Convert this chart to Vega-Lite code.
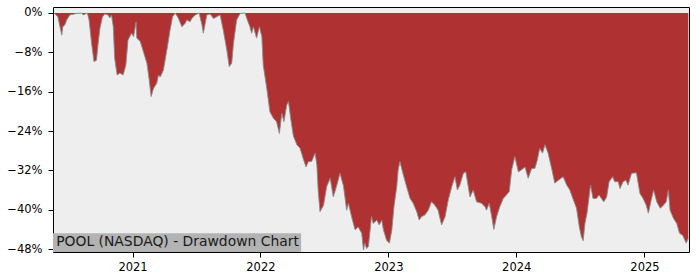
{
  "$schema": "https://vega.github.io/schema/vega-lite/v6.json",
  "width": 636,
  "height": 245,
  "autosize": {"type": "none"},
  "padding": {"left": 53, "top": 7, "right": 11, "bottom": 28},
  "background": "white",
  "config": {
    "font": "DejaVu Sans",
    "view": {"fill": "#eeeeee", "stroke": "black", "strokeWidth": 1},
    "axis": {"grid": false, "domain": false, "tickColor": "black", "tickSize": 5, "tickWidth": 1, "labelColor": "black", "labelFontSize": 11.5, "labelFont": "DejaVu Sans", "title": null}
  },
  "layer": [
    {
      "data": {"values": [
        {"date": "2020-05-22", "drawdown": 0},
        {"date": "2020-06-02", "drawdown": -0.8},
        {"date": "2020-06-13", "drawdown": -4.5},
        {"date": "2020-06-16", "drawdown": -2.8},
        {"date": "2020-06-22", "drawdown": -2.4},
        {"date": "2020-06-27", "drawdown": -1.4},
        {"date": "2020-07-06", "drawdown": -0.4},
        {"date": "2020-07-25", "drawdown": -0.1},
        {"date": "2020-08-09", "drawdown": 0},
        {"date": "2020-08-13", "drawdown": -0.4},
        {"date": "2020-08-25", "drawdown": 0},
        {"date": "2020-08-30", "drawdown": -1.4},
        {"date": "2020-09-06", "drawdown": -6.1},
        {"date": "2020-09-13", "drawdown": -9.9},
        {"date": "2020-09-20", "drawdown": -9.6},
        {"date": "2020-09-25", "drawdown": -6.1},
        {"date": "2020-09-30", "drawdown": -3.1},
        {"date": "2020-10-07", "drawdown": -0.8},
        {"date": "2020-10-14", "drawdown": -0.2},
        {"date": "2020-10-23", "drawdown": -0.4},
        {"date": "2020-10-28", "drawdown": -1.0},
        {"date": "2020-11-02", "drawdown": -0.4},
        {"date": "2020-11-07", "drawdown": -2.8},
        {"date": "2020-11-11", "drawdown": -9.2},
        {"date": "2020-11-18", "drawdown": -12.6},
        {"date": "2020-11-26", "drawdown": -12.2},
        {"date": "2020-12-05", "drawdown": -12.6},
        {"date": "2020-12-13", "drawdown": -10.6},
        {"date": "2020-12-19", "drawdown": -5.5},
        {"date": "2020-12-29", "drawdown": -4.1},
        {"date": "2021-01-04", "drawdown": -4.8},
        {"date": "2021-01-11", "drawdown": -1.8},
        {"date": "2021-01-13", "drawdown": -5.1},
        {"date": "2021-01-23", "drawdown": -5.8},
        {"date": "2021-02-01", "drawdown": -7.9},
        {"date": "2021-02-11", "drawdown": -10.2},
        {"date": "2021-02-17", "drawdown": -13.3},
        {"date": "2021-02-23", "drawdown": -17.0},
        {"date": "2021-03-02", "drawdown": -15.3},
        {"date": "2021-03-11", "drawdown": -14.3},
        {"date": "2021-03-16", "drawdown": -12.6},
        {"date": "2021-03-21", "drawdown": -13.0},
        {"date": "2021-03-30", "drawdown": -11.6},
        {"date": "2021-04-09", "drawdown": -7.5},
        {"date": "2021-04-18", "drawdown": -3.5},
        {"date": "2021-04-25", "drawdown": -0.8},
        {"date": "2021-05-03", "drawdown": 0},
        {"date": "2021-05-12", "drawdown": -1.1},
        {"date": "2021-05-22", "drawdown": -2.8},
        {"date": "2021-05-31", "drawdown": -2.1},
        {"date": "2021-06-05", "drawdown": -1.4},
        {"date": "2021-06-14", "drawdown": -1.8},
        {"date": "2021-06-19", "drawdown": -1.1},
        {"date": "2021-06-29", "drawdown": -0.4},
        {"date": "2021-07-10", "drawdown": 0},
        {"date": "2021-07-18", "drawdown": -2.4},
        {"date": "2021-07-22", "drawdown": -4.1},
        {"date": "2021-08-01", "drawdown": -0.4},
        {"date": "2021-08-10", "drawdown": -0.2},
        {"date": "2021-08-20", "drawdown": -1.1},
        {"date": "2021-09-08", "drawdown": -0.4},
        {"date": "2021-09-17", "drawdown": -3.5},
        {"date": "2021-09-27", "drawdown": -7.5},
        {"date": "2021-10-04", "drawdown": -10.9},
        {"date": "2021-10-11", "drawdown": -10.2},
        {"date": "2021-10-16", "drawdown": -6.2},
        {"date": "2021-10-25", "drawdown": -1.4},
        {"date": "2021-11-04", "drawdown": -0.1},
        {"date": "2021-11-18", "drawdown": 0},
        {"date": "2021-11-23", "drawdown": -1.1},
        {"date": "2021-12-02", "drawdown": -2.8},
        {"date": "2021-12-07", "drawdown": -4.1},
        {"date": "2021-12-12", "drawdown": -2.8},
        {"date": "2021-12-21", "drawdown": -5.1},
        {"date": "2021-12-29", "drawdown": -2.8},
        {"date": "2022-01-05", "drawdown": -4.8},
        {"date": "2022-01-09", "drawdown": -10.6},
        {"date": "2022-01-19", "drawdown": -15.3},
        {"date": "2022-01-28", "drawdown": -20.1},
        {"date": "2022-02-07", "drawdown": -21.4},
        {"date": "2022-02-16", "drawdown": -22.1},
        {"date": "2022-02-24", "drawdown": -24.5},
        {"date": "2022-03-03", "drawdown": -20.4},
        {"date": "2022-03-09", "drawdown": -22.1},
        {"date": "2022-03-17", "drawdown": -18.7},
        {"date": "2022-03-22", "drawdown": -18.0},
        {"date": "2022-03-29", "drawdown": -21.8},
        {"date": "2022-04-05", "drawdown": -25.0},
        {"date": "2022-04-15", "drawdown": -26.8},
        {"date": "2022-04-24", "drawdown": -27.5},
        {"date": "2022-05-03", "drawdown": -29.6},
        {"date": "2022-05-11", "drawdown": -31.3},
        {"date": "2022-05-18", "drawdown": -30.2},
        {"date": "2022-05-27", "drawdown": -30.2},
        {"date": "2022-06-06", "drawdown": -28.5},
        {"date": "2022-06-11", "drawdown": -30.9},
        {"date": "2022-06-15", "drawdown": -36.3},
        {"date": "2022-06-20", "drawdown": -40.4},
        {"date": "2022-06-30", "drawdown": -39.1},
        {"date": "2022-07-09", "drawdown": -35.3},
        {"date": "2022-07-19", "drawdown": -33.6},
        {"date": "2022-07-28", "drawdown": -37.4},
        {"date": "2022-08-07", "drawdown": -35.0},
        {"date": "2022-08-16", "drawdown": -32.6},
        {"date": "2022-08-26", "drawdown": -35.2},
        {"date": "2022-09-04", "drawdown": -40.1},
        {"date": "2022-09-09", "drawdown": -38.7},
        {"date": "2022-09-18", "drawdown": -41.4},
        {"date": "2022-09-28", "drawdown": -44.1},
        {"date": "2022-10-07", "drawdown": -43.5},
        {"date": "2022-10-17", "drawdown": -44.8},
        {"date": "2022-10-22", "drawdown": -48.2},
        {"date": "2022-10-26", "drawdown": -46.8},
        {"date": "2022-10-31", "drawdown": -47.9},
        {"date": "2022-11-05", "drawdown": -47.5},
        {"date": "2022-11-14", "drawdown": -41.4},
        {"date": "2022-11-19", "drawdown": -42.8},
        {"date": "2022-11-29", "drawdown": -42.1},
        {"date": "2022-12-06", "drawdown": -43.1},
        {"date": "2022-12-13", "drawdown": -42.1},
        {"date": "2022-12-18", "drawdown": -44.1},
        {"date": "2022-12-27", "drawdown": -46.2},
        {"date": "2023-01-04", "drawdown": -46.8},
        {"date": "2023-01-11", "drawdown": -44.1},
        {"date": "2023-01-17", "drawdown": -39.4},
        {"date": "2023-01-25", "drawdown": -35.3},
        {"date": "2023-01-29", "drawdown": -31.9},
        {"date": "2023-02-03", "drawdown": -30.2},
        {"date": "2023-02-13", "drawdown": -33.0},
        {"date": "2023-02-22", "drawdown": -35.3},
        {"date": "2023-03-04", "drawdown": -37.7},
        {"date": "2023-03-13", "drawdown": -38.7},
        {"date": "2023-03-23", "drawdown": -40.4},
        {"date": "2023-03-30", "drawdown": -42.1},
        {"date": "2023-04-06", "drawdown": -41.4},
        {"date": "2023-04-15", "drawdown": -41.1},
        {"date": "2023-04-25", "drawdown": -40.1},
        {"date": "2023-05-04", "drawdown": -38.4},
        {"date": "2023-05-14", "drawdown": -39.1},
        {"date": "2023-05-23", "drawdown": -40.1},
        {"date": "2023-06-02", "drawdown": -43.1},
        {"date": "2023-06-12", "drawdown": -41.4},
        {"date": "2023-06-21", "drawdown": -38.0},
        {"date": "2023-07-01", "drawdown": -35.3},
        {"date": "2023-07-10", "drawdown": -33.3},
        {"date": "2023-07-17", "drawdown": -36.0},
        {"date": "2023-07-24", "drawdown": -35.0},
        {"date": "2023-08-03", "drawdown": -32.6},
        {"date": "2023-08-10", "drawdown": -32.3},
        {"date": "2023-08-17", "drawdown": -35.3},
        {"date": "2023-08-22", "drawdown": -37.4},
        {"date": "2023-08-31", "drawdown": -36.0},
        {"date": "2023-09-10", "drawdown": -38.4},
        {"date": "2023-09-24", "drawdown": -38.7},
        {"date": "2023-10-04", "drawdown": -39.4},
        {"date": "2023-10-08", "drawdown": -40.1},
        {"date": "2023-10-16", "drawdown": -38.7},
        {"date": "2023-10-23", "drawdown": -41.4},
        {"date": "2023-10-29", "drawdown": -44.0},
        {"date": "2023-11-06", "drawdown": -41.4},
        {"date": "2023-11-15", "drawdown": -39.4},
        {"date": "2023-11-25", "drawdown": -37.7},
        {"date": "2023-12-04", "drawdown": -37.0},
        {"date": "2023-12-12", "drawdown": -36.3},
        {"date": "2023-12-19", "drawdown": -31.9},
        {"date": "2023-12-28", "drawdown": -29.2},
        {"date": "2024-01-07", "drawdown": -32.3},
        {"date": "2024-01-16", "drawdown": -31.9},
        {"date": "2024-01-26", "drawdown": -31.3},
        {"date": "2024-02-04", "drawdown": -33.6},
        {"date": "2024-02-14", "drawdown": -31.6},
        {"date": "2024-02-23", "drawdown": -31.6},
        {"date": "2024-03-01", "drawdown": -29.9},
        {"date": "2024-03-08", "drawdown": -27.5},
        {"date": "2024-03-16", "drawdown": -28.5},
        {"date": "2024-03-23", "drawdown": -26.8},
        {"date": "2024-04-01", "drawdown": -28.5},
        {"date": "2024-04-11", "drawdown": -31.6},
        {"date": "2024-04-20", "drawdown": -34.6},
        {"date": "2024-04-30", "drawdown": -34.0},
        {"date": "2024-05-14", "drawdown": -33.3},
        {"date": "2024-05-24", "drawdown": -35.0},
        {"date": "2024-06-02", "drawdown": -36.0},
        {"date": "2024-06-12", "drawdown": -38.0},
        {"date": "2024-06-21", "drawdown": -39.7},
        {"date": "2024-06-29", "drawdown": -43.5},
        {"date": "2024-07-05", "drawdown": -45.5},
        {"date": "2024-07-10", "drawdown": -46.3},
        {"date": "2024-07-15", "drawdown": -42.8},
        {"date": "2024-07-21", "drawdown": -40.7},
        {"date": "2024-07-31", "drawdown": -35.0},
        {"date": "2024-08-07", "drawdown": -37.7},
        {"date": "2024-08-17", "drawdown": -37.7},
        {"date": "2024-08-24", "drawdown": -37.0},
        {"date": "2024-08-31", "drawdown": -37.7},
        {"date": "2024-09-07", "drawdown": -38.4},
        {"date": "2024-09-15", "drawdown": -37.4},
        {"date": "2024-09-22", "drawdown": -34.3},
        {"date": "2024-10-02", "drawdown": -33.3},
        {"date": "2024-10-08", "drawdown": -34.3},
        {"date": "2024-10-18", "drawdown": -34.3},
        {"date": "2024-10-23", "drawdown": -35.7},
        {"date": "2024-11-01", "drawdown": -34.3},
        {"date": "2024-11-09", "drawdown": -34.0},
        {"date": "2024-11-15", "drawdown": -35.0},
        {"date": "2024-11-25", "drawdown": -32.6},
        {"date": "2024-12-09", "drawdown": -32.5},
        {"date": "2024-12-19", "drawdown": -36.7},
        {"date": "2024-12-28", "drawdown": -37.7},
        {"date": "2025-01-06", "drawdown": -39.1},
        {"date": "2025-01-12", "drawdown": -40.7},
        {"date": "2025-01-19", "drawdown": -38.4},
        {"date": "2025-01-27", "drawdown": -36.0},
        {"date": "2025-02-05", "drawdown": -38.4},
        {"date": "2025-02-15", "drawdown": -39.7},
        {"date": "2025-02-24", "drawdown": -39.1},
        {"date": "2025-03-04", "drawdown": -38.4},
        {"date": "2025-03-10", "drawdown": -36.0},
        {"date": "2025-03-15", "drawdown": -40.1},
        {"date": "2025-03-25", "drawdown": -41.8},
        {"date": "2025-04-03", "drawdown": -42.8},
        {"date": "2025-04-11", "drawdown": -44.8},
        {"date": "2025-04-20", "drawdown": -45.2},
        {"date": "2025-04-30", "drawdown": -46.8},
        {"date": "2025-05-06", "drawdown": -45.8}
      ]},
      "encoding": {
        "x": {
          "field": "date",
          "type": "temporal",
          "scale": {"type": "utc", "domain": [{"year": 2020, "month": 5, "date": 19, "utc": true}, {"year": 2025, "month": 5, "date": 8, "utc": true}]},
          "axis": {"format": "%Y", "tickCount": {"interval": "year", "step": 1}, "labelPadding": 4, "labelFlush": false}
        },
        "y": {
          "field": "drawdown",
          "type": "quantitative",
          "scale": {"domain": [-48.6, 1.22], "nice": false, "zero": false},
          "axis": {"values": [0, -8, -16, -24, -32, -40, -48], "labelExpr": "format(datum.value, 'd') + '%'", "labelPadding": 6}
        }
      },
      "layer": [
        {"mark": {"type": "area", "color": "#b03131", "clip": true}},
        {"mark": {"type": "line", "color": "#8a8a8a", "strokeWidth": 0.9, "clip": true}}
      ]
    },
    {
      "data": {"values": [{"label": "POOL (NASDAQ) - Drawdown Chart"}]},
      "layer": [
        {
          "mark": {"type": "rect", "color": "#b3b3b3"},
          "encoding": {
            "x": {"datum": {"year": 2020, "month": 5, "date": 19, "utc": true}, "type": "temporal"},
            "x2": {"datum": {"year": 2022, "month": 4, "date": 27, "utc": true}},
            "y": {"datum": -44.8, "type": "quantitative"},
            "y2": {"datum": -48.6}
          }
        },
        {
          "mark": {"type": "text", "align": "left", "baseline": "middle", "font": "DejaVu Sans", "fontSize": 13.9, "color": "#1a1a1a"},
          "encoding": {
            "text": {"field": "label"},
            "x": {"datum": {"year": 2020, "month": 5, "date": 28, "utc": true}, "type": "temporal"},
            "y": {"datum": -46.6, "type": "quantitative"}
          }
        }
      ]
    }
  ]
}
